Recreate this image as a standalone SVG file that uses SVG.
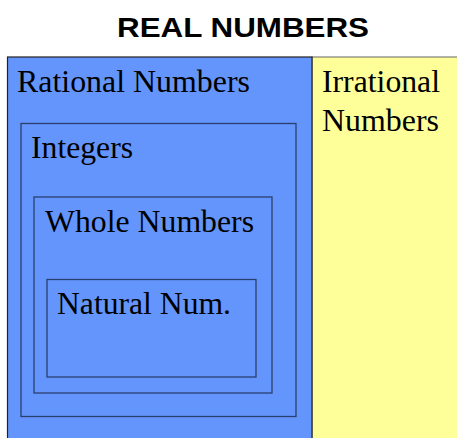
<svg xmlns="http://www.w3.org/2000/svg" width="457" height="438" viewBox="0 0 457 438">
<style>
.t{font-family:"Liberation Serif","Times New Roman",serif;font-size:31.5px;fill:#000}
.box{fill:none;stroke:#2a3f6e;stroke-width:1.3}
</style>
<rect width="457" height="438" fill="#fff"/>
<text x="243" y="37" text-anchor="middle" font-family="'Liberation Sans',Arial,sans-serif" font-weight="bold" font-size="28" textLength="252" lengthAdjust="spacingAndGlyphs">REAL NUMBERS</text>
<g id="irrational">
<rect x="312" y="57" width="150" height="390" fill="#ffff99" stroke="#666" stroke-width="1"/>
<text class="t" x="322" y="92" textLength="118" lengthAdjust="spacingAndGlyphs">Irrational</text>
<text class="t" x="322" y="131" textLength="117" lengthAdjust="spacingAndGlyphs">Numbers</text>
</g>
<g id="rational">
<rect x="7.5" y="57" width="304.5" height="390" fill="#6495fd" stroke="#222" stroke-width="1.2"/>
<text class="t" x="17" y="92" textLength="233" lengthAdjust="spacingAndGlyphs">Rational Numbers</text>
</g>
<g id="integers">
<rect class="box" x="21" y="123.5" width="275" height="293"/>
<text class="t" x="31" y="158" textLength="102" lengthAdjust="spacingAndGlyphs">Integers</text>
</g>
<g id="whole">
<rect class="box" x="34" y="197" width="238" height="196"/>
<text class="t" x="45" y="232" textLength="209" lengthAdjust="spacingAndGlyphs">Whole Numbers</text>
</g>
<g id="natural">
<rect class="box" x="47" y="279.5" width="209" height="97.5"/>
<text class="t" x="57" y="314" textLength="174" lengthAdjust="spacingAndGlyphs">Natural Num.</text>
</g>
<g id="connectors"></g>
</svg>
